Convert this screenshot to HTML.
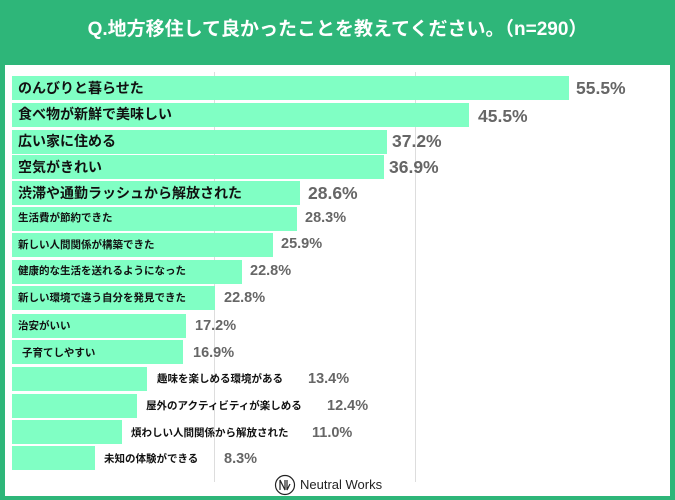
<!DOCTYPE html>
<html><head><meta charset="utf-8"><style>
body{margin:0;width:675px;height:500px;background:#2eb679;position:relative;overflow:hidden;font-family:"Liberation Sans","Noto Sans CJK JP",sans-serif}
.title{position:absolute;left:0;top:0;width:675px;height:62px;color:#fff;font-size:19px;font-weight:bold;text-align:center;line-height:60px}
.panel{position:absolute;left:5px;top:65px;width:665px;height:431px;background:#fff}
.grid{position:absolute;top:72px;width:1px;height:410px;background:#ddd}
.bar{position:absolute;left:12px;height:24px;background:#80ffc4}
.lab{position:absolute;font-weight:bold;color:#111;white-space:nowrap;line-height:1}
.val{position:absolute;font-weight:bold;color:#666;white-space:nowrap;line-height:1}
</style></head><body>
<div class="title">Q.地方移住して良かったことを教えてください。（n=290）</div>
<div class="panel"></div>
<div class="grid" style="left:214px"></div>
<div class="grid" style="left:415px"></div>
<div class="bar" style="top:76px;width:557px"></div>
<div class="lab" style="left:18px;top:81px;font-size:14px">のんびりと暮らせた</div>
<div class="val" style="left:576px;top:80px;font-size:17.5px">55.5%</div>
<div class="bar" style="top:103px;width:457px"></div>
<div class="lab" style="left:18px;top:107px;font-size:14px">食べ物が新鮮で美味しい</div>
<div class="val" style="left:478px;top:108px;font-size:17.5px">45.5%</div>
<div class="bar" style="top:130px;width:375px"></div>
<div class="lab" style="left:18px;top:134px;font-size:14px">広い家に住める</div>
<div class="val" style="left:392px;top:133px;font-size:17.5px">37.2%</div>
<div class="bar" style="top:155px;width:372px"></div>
<div class="lab" style="left:18px;top:160px;font-size:14px">空気がきれい</div>
<div class="val" style="left:389px;top:159px;font-size:17.5px">36.9%</div>
<div class="bar" style="top:181px;width:288px"></div>
<div class="lab" style="left:18px;top:186px;font-size:14px">渋滞や通勤ラッシュから解放された</div>
<div class="val" style="left:308px;top:185px;font-size:17.5px">28.6%</div>
<div class="bar" style="top:207px;width:285px"></div>
<div class="lab" style="left:18px;top:213px;font-size:10.5px">生活費が節約できた</div>
<div class="val" style="left:305px;top:211px;font-size:14.5px">28.3%</div>
<div class="bar" style="top:233px;width:261px"></div>
<div class="lab" style="left:18px;top:240px;font-size:10.5px">新しい人間関係が構築できた</div>
<div class="val" style="left:281px;top:237px;font-size:14.5px">25.9%</div>
<div class="bar" style="top:260px;width:230px"></div>
<div class="lab" style="left:18px;top:266px;font-size:10.5px">健康的な生活を送れるようになった</div>
<div class="val" style="left:250px;top:264px;font-size:14.5px">22.8%</div>
<div class="bar" style="top:286px;width:203px"></div>
<div class="lab" style="left:18px;top:293px;font-size:10.5px">新しい環境で違う自分を発見できた</div>
<div class="val" style="left:224px;top:291px;font-size:14.5px">22.8%</div>
<div class="bar" style="top:314px;width:174px"></div>
<div class="lab" style="left:18px;top:321px;font-size:10.5px">治安がいい</div>
<div class="val" style="left:195px;top:319px;font-size:14.5px">17.2%</div>
<div class="bar" style="top:340px;width:171px"></div>
<div class="lab" style="left:22px;top:348px;font-size:10.5px">子育てしやすい</div>
<div class="val" style="left:193px;top:346px;font-size:14.5px">16.9%</div>
<div class="bar" style="top:367px;width:135px"></div>
<div class="lab" style="left:157px;top:374px;font-size:10.5px">趣味を楽しめる環境がある</div>
<div class="val" style="left:308px;top:372px;font-size:14.5px">13.4%</div>
<div class="bar" style="top:394px;width:125px"></div>
<div class="lab" style="left:146px;top:401px;font-size:10.5px">屋外のアクティビティが楽しめる</div>
<div class="val" style="left:327px;top:399px;font-size:14.5px">12.4%</div>
<div class="bar" style="top:420px;width:110px"></div>
<div class="lab" style="left:131px;top:428px;font-size:10.5px">煩わしい人間関係から解放された</div>
<div class="val" style="left:312px;top:426px;font-size:14.5px">11.0%</div>
<div class="bar" style="top:446px;width:83px"></div>
<div class="lab" style="left:104px;top:454px;font-size:10.5px">未知の体験ができる</div>
<div class="val" style="left:224px;top:452px;font-size:14.5px">8.3%</div>
<svg style="position:absolute;left:274px;top:474px" width="22" height="22" viewBox="0 0 22 22"><circle cx="11" cy="11" r="9.5" fill="none" stroke="#222" stroke-width="1.2"/><path d="M6 16V6l5 10V6M13 6v10l3-6" fill="none" stroke="#222" stroke-width="1.2"/></svg>
<div style="position:absolute;left:300px;top:477px;font-size:13px;color:#222">Neutral Works</div>
</body></html>
